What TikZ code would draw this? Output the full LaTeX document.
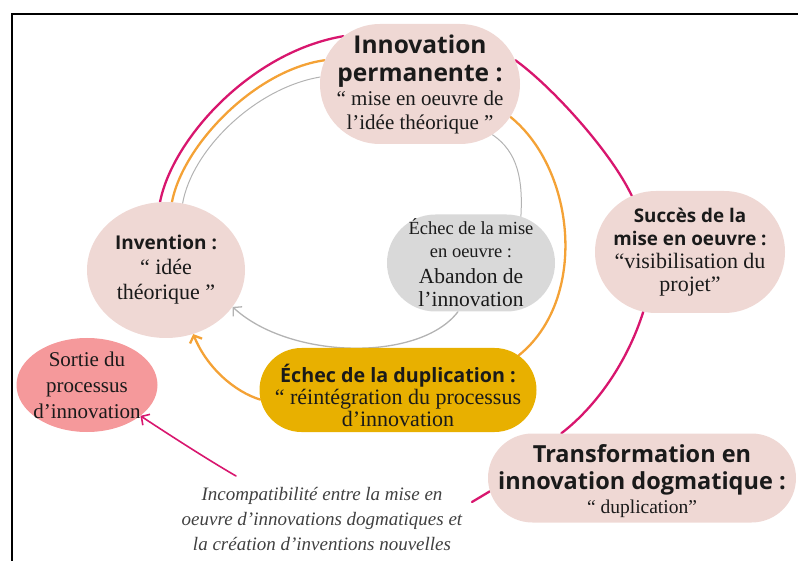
\documentclass[tikz,border=0pt]{standalone}
\usepackage{fontspec}
\usepackage{tikz}
\usetikzlibrary{arrows.meta, backgrounds, shapes.geometric, shapes.misc}
\setmainfont{Liberation Serif}
\newfontfamily\headfont{Open Sans}
\definecolor{rosebulle}{HTML}{EFD8D4}
\definecolor{grisbulle}{HTML}{D9D9D9}
\definecolor{orbulle}{HTML}{E8B000}
\definecolor{saumon}{HTML}{F5999B}
\definecolor{framboise}{HTML}{D8166E}
\definecolor{abricot}{HTML}{F4A236}
\definecolor{grisfil}{HTML}{B3B3B3}
\definecolor{encre}{HTML}{1A1A1A}
\newcommand{\titre}[2]{{\headfont\bfseries\fontsize{#1}{#1}\selectfont #2}}
\newcommand{\texte}[2]{{\fontsize{#1}{#1}\selectfont #2}}
% texte centre dans une boite de largeur nulle
\newcommand{\dedans}[1]{\makebox[0pt]{\parbox[c]{340pt}{\centering #1}}}

\begin{document}
\begin{tikzpicture}[x=1pt, y=-1pt,
    bulle/.style={fill=rosebulle, text=encre, inner xsep=0pt, inner ysep=-30pt},
    ovale/.style={bulle, ellipse},
    pilule/.style={bulle, rounded rectangle},
    fil/.style={line width=2.3pt, line cap=round},
    filfin/.style={line width=1pt, grisfil, line cap=round},
    pointe/.style={-{Straight Barb[length=6pt,width=13pt]}}]
\useasboundingbox (0,0) rectangle (798,561);
\draw[line width=1.5pt] (12,561) -- (12,14) -- (798,14);

% bulles
\node[pilule, minimum width=200pt, minimum height=120pt, font=\fontsize{21}{24}\selectfont] (inno) at (420,84)
    {\dedans{\titre{24.5}{Innovation}\\[4pt] \titre{24.5}{permanente :}\\ \texte{21}{“ mise en oeuvre de}\\ \texte{21}{l’idée théorique ”}}};
\node[ovale, minimum width=158pt, minimum height=136pt, font=\fontsize{22}{25}\selectfont] (inv) at (166,270)
    {\dedans{\titre{19}{Invention :}\\ \texte{22}{“ idée}\\ \texte{22}{théorique ”}}};
\node[pilule, fill=grisbulle, minimum width=168pt, minimum height=97pt, font=\fontsize{18.5}{23}\selectfont] (echmise) at (471,263)
    {\dedans{\texte{18.5}{Échec de la mise}\\ \texte{18.5}{en oeuvre :}\\[3pt] \texte{21.5}{Abandon de}\\ \texte{21.5}{l’innovation}}};
\node[pilule, minimum width=190pt, minimum height=122pt, font=\fontsize{22}{23}\selectfont] (succ) at (690,252)
    {\dedans{\titre{18.8}{Succès de la}\\ \titre{18.8}{mise en oeuvre :}\\ \texte{22}{“visibilisation du}\\ \texte{22}{projet”}}};
\node[ovale, fill=saumon, minimum width=141pt, minimum height=94pt, font=\fontsize{21}{26}\selectfont] (sortie) at (87,385)
    {\dedans{Sortie du\\ processus\\ d’innovation}};
\node[pilule, fill=orbulle, minimum width=277pt, minimum height=84pt, font=\fontsize{22}{22}\selectfont] (echdup) at (398,390)
    {\dedans{\vspace*{10pt}\titre{19.7}{Échec de la duplication :}\\ \texte{22}{“ réintégration du processus}\\ \texte{22}{d’innovation}}};
\node[pilule, minimum width=308pt, minimum height=89pt, font=\fontsize{23.5}{27}\selectfont] (transf) at (642,478)
    {\dedans{\vspace*{6pt}\titre{23.5}{Transformation en}\\ \titre{23.5}{innovation dogmatique :}\\[-3pt] \texte{19.5}{“ duplication”}}};
\node[align=center, text=black!75, font=\itshape\fontsize{19}{25}\selectfont] (note) at (322,519)
    {Incompatibilité entre la mise en\\ oeuvre d’innovations dogmatiques et\\ la création d’inventions nouvelles};
\coordinate (incompat) at (236,476);
\coordinate (finboucle) at (472,502);

% liaisons
\begin{scope}[on background layer]
\draw[fil, framboise] (inv.95) .. controls (172,140) and (250,52) .. (inno.148);
\draw[fil, framboise] (inno.14) .. controls (550,85) and (610,150) .. (succ.136);
\draw[fil, framboise] (succ.232) .. controls (628,360) and (598,405) .. (transf.151);
\draw[fil, framboise] (transf.185) -- (finboucle);
\draw[fil, framboise, line width=1.6pt, pointe] (incompat) .. controls (205,458) and (165,432) .. (sortie.330);
\draw[fil, abricot] (inv.85) .. controls (183,145) and (255,70) .. (inno.166);
\draw[fil, abricot] (inno.340) .. controls (576,170) and (588,300) .. (echdup.16);
\draw[fil, abricot, pointe] (echdup.184) .. controls (235,392) and (207,368) .. (inv.293);
\draw[filfin] (inv.76) .. controls (192,150) and (255,88) .. (inno.176);
\draw[filfin] (inno.325) .. controls (518,152) and (523,180) .. (echmise.43);
\draw[filfin, line width=1.3pt, pointe] (echmise.255) .. controls (420,362) and (290,360) .. (inv.331);
\end{scope}
\end{tikzpicture}
\end{document}
